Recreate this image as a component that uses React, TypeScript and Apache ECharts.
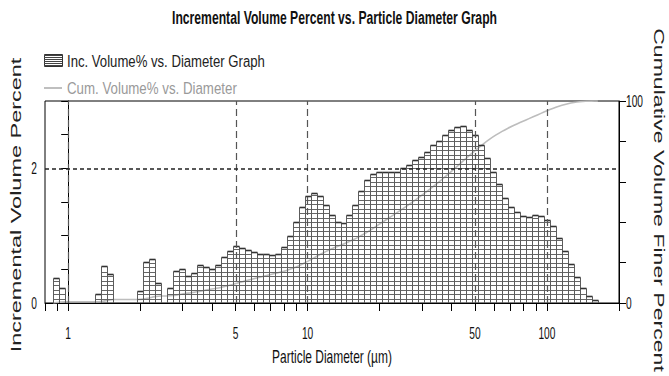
import { useEffect, useRef } from 'react';
import * as echarts from 'echarts';

// Channel centre diameters (µm), 40 channels per decade
const diameters = [
  0.891, 0.944, 1.0, 1.059, 1.122, 1.189, 1.259, 1.334, 1.413, 1.496,
  1.585, 1.679, 1.778, 1.884, 1.995, 2.113, 2.239, 2.371, 2.512, 2.661,
  2.818, 2.985, 3.162, 3.35, 3.548, 3.758, 3.981, 4.217, 4.467, 4.732,
  5.012, 5.309, 5.623, 5.957, 6.31, 6.683, 7.079, 7.499, 7.943, 8.414,
  8.913, 9.441, 10.0, 10.59, 11.22, 11.89, 12.59, 13.34, 14.13, 14.96,
  15.85, 16.79, 17.78, 18.84, 19.95, 21.13, 22.39, 23.71, 25.12, 26.61,
  28.18, 29.85, 31.62, 33.5, 35.48, 37.58, 39.81, 42.17, 44.67, 47.32,
  50.12, 53.09, 56.23, 59.57, 63.1, 66.83, 70.79, 74.99, 79.43, 84.14,
  89.13, 94.41, 100.0, 105.9, 112.2, 118.9, 125.9, 133.4, 141.3, 149.6,
  158.5,
];

// Incremental volume percent in each channel
const incVolume = [
  0.37, 0.23, 0, 0, 0, 0, 0, 0.13, 0.55, 0.43,
  0, 0, 0, 0, 0.18, 0.61, 0.65, 0.29, 0, 0.23,
  0.48, 0.5, 0.4, 0.45, 0.56, 0.54, 0.5, 0.56, 0.68, 0.77,
  0.85, 0.81, 0.78, 0.76, 0.73, 0.73, 0.72, 0.73, 0.83, 1.0,
  1.21, 1.42, 1.59, 1.64, 1.59, 1.46, 1.31, 1.2, 1.19, 1.3,
  1.46, 1.66, 1.82, 1.92, 1.94, 1.94, 1.94, 1.94, 2.0, 2.05,
  2.13, 2.17, 2.24, 2.34, 2.4, 2.5, 2.57, 2.61, 2.63, 2.57,
  2.49, 2.34, 2.16, 1.94, 1.76, 1.56, 1.42, 1.35, 1.29, 1.28,
  1.3, 1.29, 1.24, 1.14, 0.96, 0.77, 0.58, 0.39, 0.23, 0.1,
  0.04,
];

const xTickValues = [0.8, 0.9, 1, 2, 3, 4, 5, 6, 7, 8, 9, 10, 20, 30, 40, 50, 60, 70, 80, 90, 100, 200];
const xLabelValues = [1, 5, 10, 50, 100];
const xGridValues = [1, 5, 10, 50, 100];
const leftLabelValues = [0, 2];
const rightLabelValues = [0, 100];

const X_MIN = 0.8;
const X_MAX = 200;

const TITLE = 'Incremental Volume Percent vs. Particle Diameter Graph';
const INC_NAME = 'Inc. Volume% vs. Diameter Graph';
const CUM_NAME = 'Cum. Volume% vs. Diameter';
const X_NAME = 'Particle Diameter (µm)';
const Y_LEFT_NAME = 'Incremental Volume Percent';
const Y_RIGHT_NAME = 'Cumulative Volume Finer Percent';

const FONT = '"Liberation Sans", Arial, sans-serif';
const HATCH = 4.5;

const lg = (v: number) => Math.log10(v);

// channel edges: geometric midpoints between neighbouring channel centres
function channelEdges() {
  const n = diameters.length;
  return diameters.map((d, i) => {
    const lo = i > 0 ? Math.sqrt(diameters[i - 1] * d) : d / Math.sqrt(diameters[1] / diameters[0]);
    const hi = i < n - 1 ? Math.sqrt(d * diameters[i + 1]) : d * Math.sqrt(d / diameters[n - 2]);
    return [lo, hi];
  });
}

let measureCtx: CanvasRenderingContext2D | null = null;
function widthScale(text: string, size: number, weight: string, target: number) {
  if (!measureCtx) measureCtx = document.createElement('canvas').getContext('2d');
  if (!measureCtx) return 1;
  measureCtx.font = `${weight} ${size}px ${FONT}`;
  const w = measureCtx.measureText(text).width;
  return w > 0 ? target / w : 1;
}

function text(
  str: string,
  x: number,
  y: number,
  opts: { size: number; weight?: string; target?: number; scaleX?: number; rotation?: number; align?: string; fill?: string }
) {
  const weight = opts.weight || 'normal';
  const sx = opts.target ? widthScale(str, opts.size, weight, opts.target) : opts.scaleX || 1;
  return {
    type: 'text',
    x,
    y,
    rotation: opts.rotation || 0,
    scaleX: sx,
    silent: true,
    style: {
      text: str,
      fontFamily: FONT,
      fontSize: opts.size,
      fontWeight: weight,
      fill: opts.fill || '#111',
      align: opts.align || 'center',
      verticalAlign: 'middle',
    },
  };
}

export default function App() {
  const ref = useRef<HTMLDivElement>(null);

  useEffect(() => {
    if (!ref.current) return;
    const chart = echarts.init(ref.current, undefined, { renderer: 'svg' });

    const edges = channelEdges();
    const barData = edges.map(([lo, hi], i) => [lg(lo), lg(hi), incVolume[i]]);

    // cumulative volume finer than each channel's upper edge
    const total = incVolume.reduce((a, b) => a + b, 0);
    let run = 0;
    const cumData: number[][] = [[lg(edges[0][0]), 0]];
    edges.forEach(([, hi], i) => {
      run += incVolume[i];
      cumData.push([lg(hi), (run / total) * 100]);
    });

    const renderBar = (_params: any, api: any) => {
      const v = api.value(2);
      if (!(v > 0)) return null;
      const pl = api.coord([api.value(0), 0]);
      const pr = api.coord([api.value(1), v]);
      const xl = Math.round(pl[0]) + 0.5;
      const xr = Math.round(pr[0]) + 0.5;
      const yb = pl[1];
      const yt = Math.round(pr[1]) + 0.5;
      const children: any[] = [];
      for (let y = yb - HATCH; y > yt + 1.2; y -= HATCH) {
        const yy = Math.round(y) + 0.5;
        children.push({
          type: 'line',
          shape: { x1: xl, y1: yy, x2: xr, y2: yy },
          style: { stroke: '#666', lineWidth: 1 },
        });
      }
      children.push({ type: 'line', shape: { x1: xl, y1: yb, x2: xl, y2: yt }, style: { stroke: '#5c5c5c', lineWidth: 1 } });
      children.push({ type: 'line', shape: { x1: xr, y1: yb, x2: xr, y2: yt }, style: { stroke: '#5c5c5c', lineWidth: 1 } });
      children.push({ type: 'line', shape: { x1: xl, y1: yt, x2: xr, y2: yt }, style: { stroke: '#333', lineWidth: 1.6 } });
      return { type: 'group', children };
    };

    const axisCommon = {
      axisLine: { show: true, lineStyle: { color: '#000', width: 1 } },
      axisTick: { show: true, inside: false, length: 7, lineStyle: { color: '#000', width: 1 } },
      axisLabel: { show: false },
      splitLine: { show: false },
    };

    chart.setOption({
      animation: false,
      backgroundColor: '#fff',
      grid: { left: 45, right: 50, top: 101, bottom: 73, show: true, borderColor: '#000', borderWidth: 1, backgroundColor: 'transparent' },
      xAxis: {
        type: 'value',
        min: lg(X_MIN),
        max: lg(X_MAX),
        ...axisCommon,
        axisTick: { ...axisCommon.axisTick, length: 8, customValues: xTickValues.map(lg) },
      },
      yAxis: [
        { type: 'value', min: 0, max: 3, interval: 0.5, position: 'left', ...axisCommon },
        { type: 'value', min: 0, max: 100, interval: 20, position: 'right', ...axisCommon },
      ],
      series: [
        {
          type: 'line',
          name: 'grid',
          data: [],
          z: 1,
          silent: true,
          markLine: {
            silent: true,
            symbol: ['none', 'none'],
            label: { show: false },
            animation: false,
            data: [
              ...xGridValues.map((v) => ({ xAxis: lg(v), lineStyle: { type: [7, 4], color: '#555', width: 1.2 } })),
              { yAxis: 2, lineStyle: { type: [4, 3], color: '#222', width: 1.5 } },
            ],
          },
        },
        {
          type: 'line',
          name: CUM_NAME,
          yAxisIndex: 1,
          data: cumData,
          showSymbol: false,
          smooth: 0.3,
          z: 2,
          silent: true,
          lineStyle: { color: '#bdbdbd', width: 1.6 },
        },
        {
          type: 'custom',
          name: INC_NAME,
          yAxisIndex: 0,
          data: barData,
          encode: { x: [0, 1], y: 2 },
          renderItem: renderBar,
          z: 3,
          silent: true,
        },
      ],
    });

    const px = (v: number) => chart.convertToPixel({ xAxisIndex: 0 }, lg(v)) as number;
    const pyL = (v: number) => chart.convertToPixel({ yAxisIndex: 0 }, v) as number;
    const pyR = (v: number) => chart.convertToPixel({ yAxisIndex: 1 }, v) as number;

    const LABEL_SIZE = 17;
    const LABEL_SX = 0.6;

    const hatchIcon: any[] = [];
    for (let y = 55.5; y < 67; y += 2) {
      hatchIcon.push({ type: 'line', shape: { x1: 44, y1: y, x2: 62, y2: y }, style: { stroke: '#444', lineWidth: 1 } });
    }

    chart.setOption({
      graphic: [
        text(TITLE, 334.5, 18, { size: 18, weight: 'bold', target: 325 }),
        {
          type: 'group',
          silent: true,
          children: [
            { type: 'rect', shape: { x: 44.5, y: 54.5, width: 18, height: 12 }, style: { fill: 'none', stroke: '#333', lineWidth: 1 } },
            ...hatchIcon,
          ],
        },
        text(INC_NAME, 67, 61, { size: 17, target: 198, align: 'left', fill: '#222' }),
        { type: 'line', silent: true, shape: { x1: 44, y1: 88, x2: 62, y2: 88 }, style: { stroke: '#aaa', lineWidth: 1.5 } },
        text(CUM_NAME, 67, 88, { size: 17, target: 170, align: 'left', fill: '#9a9a9a' }),
        text(X_NAME, 332, 357, { size: 18, target: 120 }),
        text(Y_LEFT_NAME, 16, 205, { size: 14, target: 295, rotation: Math.PI / 2, fill: '#222' }),
        text(Y_RIGHT_NAME, 659, 200, { size: 14, target: 344, rotation: -Math.PI / 2, fill: '#222' }),
        ...xLabelValues.map((v) => text(String(v), px(v), 333, { size: LABEL_SIZE, scaleX: LABEL_SX })),
        ...leftLabelValues.map((v) => text(String(v), 37, pyL(v), { size: LABEL_SIZE, scaleX: LABEL_SX, align: 'right' })),
        ...rightLabelValues.map((v) => text(String(v), 626, pyR(v), { size: LABEL_SIZE, scaleX: LABEL_SX, align: 'left' })),
      ],
    });

    return () => chart.dispose();
  }, []);

  return <div ref={ref} style={{ position: 'fixed', left: 0, top: 0, width: 669, height: 376 }} />;
}
